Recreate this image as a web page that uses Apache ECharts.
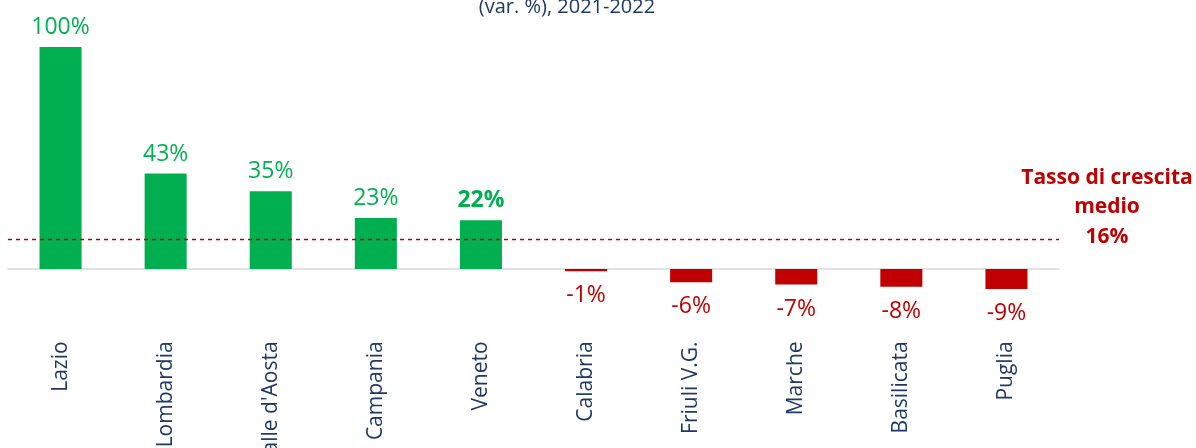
<!DOCTYPE html>
<html>
<head>
<meta charset="utf-8">
<script src="https://cdn.jsdelivr.net/npm/echarts@6/dist/echarts.min.js"></script>
<style>
  html, body { margin: 0; padding: 0; background: #fff; }
  #chart { width: 1196px; height: 448px; }
</style>
</head>
<body>
<div id="chart"></div>
<script>
// dati
var regioni = ["Lazio", "Lombardia", "Valle d'Aosta", "Campania", "Veneto", "Calabria", "Friuli V.G.", "Marche", "Basilicata", "Puglia"];
var variazioni = [100, 43, 35, 23, 22, -1, -6, -7, -8, -9];
var regioneEvidenziata = "Veneto";
var lineaMedia = 13.5;       // posizione della linea tratteggiata
var etichettaMedia = "16%";  // valore scritto accanto

var verde = "#00B050", rosso = "#C00000", blu = "#1F3864";
var font = "'Open Sans', 'Noto Sans', sans-serif";

var chart = echarts.init(document.getElementById("chart"));

var datiBarre = variazioni.map(function(v, i) {
    var pos = v >= 0;
    return {
        value: v,
        itemStyle: { color: pos ? verde : rosso },
        label: {
            position: pos ? "top" : "bottom",
            distance: pos ? 8 : 13,
            color: pos ? verde : rosso,
            fontWeight: regioni[i] === regioneEvidenziata ? "bold" : "normal"
        }
    };
});

chart.setOption({
    animation: false,
    textStyle: { fontFamily: font },
    graphic: [{
        type: "text", x: 567, y: -3,
        style: { text: "(var. %), 2021-2022", align: "center", verticalAlign: "top",
                 fill: blu, fontSize: 20, fontFamily: font }
    }, {
        type: "text", x: 1107, y: 163,
        style: { text: "Tasso di crescita\nmedio\n" + etichettaMedia, align: "center", verticalAlign: "top",
                 fill: rosso, fontSize: 21, fontWeight: "bold", lineHeight: 29.5, fontFamily: font }
    }],
    grid: { left: 8, right: 137, top: 47, bottom: 134.6, containLabel: false, outerBoundsMode: "none" },
    xAxis: {
        type: "category",
        data: regioni,
        axisLine: { onZero: true, lineStyle: { color: "#D9D9D9", width: 1.5 } },
        axisTick: { show: false },
        axisLabel: { rotate: 90, margin: 28, color: blu, fontSize: 21, interval: 0, fontFamily: font }
    },
    yAxis: {
        type: "value", min: -20, max: 100,
        show: false, splitLine: { show: false }
    },
    series: [{
        type: "bar",
        data: datiBarre,
        barWidth: "40%",
        label: {
            show: true, fontSize: 23, fontFamily: font,
            formatter: function(p) { return p.value + "%"; }
        },
        markLine: {
            silent: true, symbol: "none", z: 10,
            lineStyle: { color: rosso, type: [4, 4], width: 1.4, opacity: 1 },
            label: { show: false },
            data: [{ yAxis: lineaMedia }]
        }
    }]
});
</script>
</body>
</html>
